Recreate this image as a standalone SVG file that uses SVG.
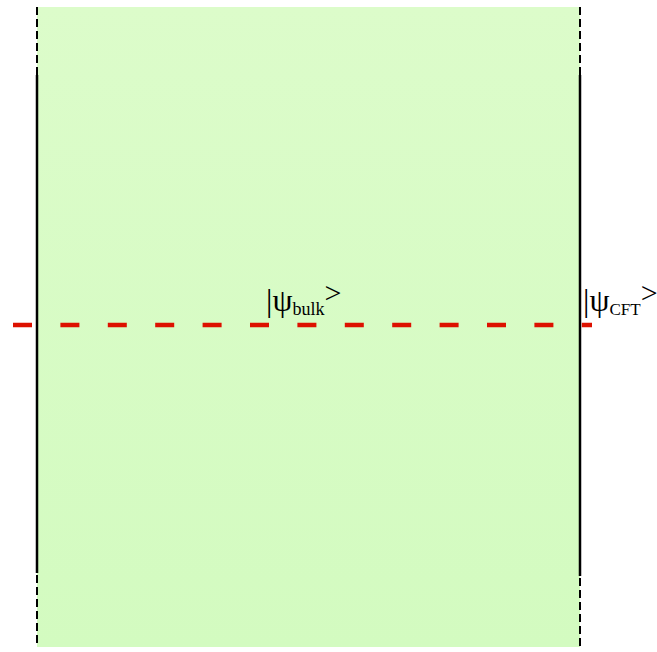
<svg xmlns="http://www.w3.org/2000/svg" width="657" height="652" viewBox="0 0 657 652">
<defs>
<linearGradient id="g" x1="0" y1="0" x2="0" y2="1">
<stop offset="0" stop-color="#dcfcca"/>
<stop offset="1" stop-color="#d3fbc0"/>
</linearGradient>
<style>
.dash{stroke:#000;stroke-width:2;stroke-dasharray:8 4;fill:none}
.solid{stroke:#000;stroke-width:2.5;fill:none}
.red{stroke:#dd1100;stroke-width:4.5;stroke-dasharray:19 28.4;fill:none}
.t{font-family:"Liberation Serif","Times New Roman",serif;fill:#000}
</style>
</defs>
<rect width="657" height="652" fill="#fff"/>
<g id="bulk">
<rect x="37" y="7" width="543" height="640" fill="url(#g)"/>
</g>
<g id="boundaries">
<line class="dash" x1="37" y1="7" x2="37" y2="75"/>
<line class="solid" x1="37" y1="75" x2="37" y2="573"/>
<line class="dash" x1="37" y1="575" x2="37" y2="647"/>
<line class="dash" x1="580" y1="7" x2="580" y2="75"/>
<line class="solid" x1="580" y1="75" x2="580" y2="576"/>
<line class="dash" x1="580" y1="578" x2="580" y2="647"/>
</g>
<g id="connectors">
<line class="red" x1="13" y1="325" x2="592" y2="325"/>
</g>
<g id="label-bulk">
<text class="t" x="266" y="311" font-size="32">|ψ<tspan font-size="18" dy="4">bulk</tspan><tspan font-size="30" dy="-12">&gt;</tspan></text>
</g>
<g id="label-cft">
<text class="t" x="583" y="311" font-size="32">|ψ<tspan font-size="17" dy="4">CFT</tspan><tspan font-size="30" dy="-12">&gt;</tspan></text>
</g>
</svg>
